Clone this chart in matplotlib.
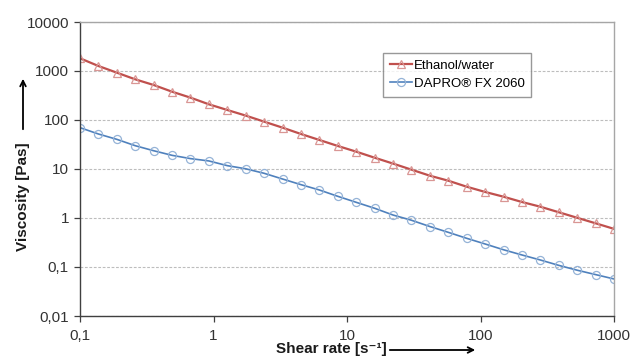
import matplotlib
matplotlib.use("Agg")
import matplotlib.pyplot as plt
from matplotlib.ticker import FixedLocator, NullLocator

plt.rcParams['font.family'] = ['Liberation Sans', 'DejaVu Sans']

shear_rate = [0.1, 0.1374, 0.1887, 0.2593, 0.3562, 0.4894, 0.6723, 0.9237,
              1.269, 1.743, 2.395, 3.290, 4.520, 6.210, 8.532, 11.72, 16.10,
              22.12, 30.39, 41.75, 57.36, 78.80, 108.3, 148.7, 204.3, 280.7,
              385.7, 529.8, 727.9, 1000.0]
ethanol_water = [1817, 1265, 925, 676, 518, 378, 286, 209, 160, 123, 92.5,
                 69.8, 51.8, 39.1, 29.5, 22.6, 17.0, 12.9, 9.7, 7.3, 5.77,
                 4.35, 3.40, 2.72, 2.12, 1.70, 1.31, 1.01, 0.78, 0.60]
dapro = [69.8, 51.8, 40.3, 29.9, 23.6, 19.0, 16.3, 14.6, 11.7, 10.1, 8.17,
         6.25, 4.79, 3.73, 2.77, 2.09, 1.58, 1.15, 0.90, 0.67, 0.51, 0.385,
         0.295, 0.225, 0.176, 0.139, 0.108, 0.086, 0.070, 0.057]
series_names = ["Ethanol/water", "DAPRO® FX 2060"]
x_ticks = [0.1, 1, 10, 100, 1000]
x_tick_labels = ["0,1", "1", "10", "100", "1000"]
y_ticks = [0.01, 0.1, 1, 10, 100, 1000, 10000]
y_tick_labels = ["0,01", "0,1", "1", "10", "100", "1000", "10000"]

W, H = 634, 356
fig = plt.figure(figsize=(W / 100, H / 100), dpi=100)
ax = fig.add_axes([80 / W, 1 - 316 / H, (614 - 80) / W, (316 - 22) / H])

ax.plot(shear_rate, ethanol_water, color='#C0504D', lw=1.6, marker='^',
        ms=5.8, mfc='none', mec='#D99694', mew=0.9, label=series_names[0])
ax.plot(shear_rate, dapro, color='#4F81BD', lw=1.2, marker='o',
        ms=5.8, mfc='none', mec='#95B3D7', mew=0.9, label=series_names[1])

ax.set_xscale('log')
ax.set_yscale('log')
ax.set_xlim(0.1, 1000)
ax.set_ylim(0.01, 10000)
ax.xaxis.set_major_locator(FixedLocator(x_ticks))
ax.set_xticklabels(x_tick_labels)
ax.yaxis.set_major_locator(FixedLocator(y_ticks))
ax.set_yticklabels(y_tick_labels)
ax.xaxis.set_minor_locator(NullLocator())
ax.yaxis.set_minor_locator(NullLocator())

ax.tick_params(axis='both', labelsize=11, colors='#404040', length=4,
               width=0.9, direction='out')
ax.tick_params(axis='x', pad=5)
ax.tick_params(axis='y', pad=4)
for lab in ax.get_xticklabels() + ax.get_yticklabels():
    lab.set_color('#333333')

ax.yaxis.grid(True, color='#BDBDBD', lw=0.8, linestyle=(0, (2.5, 1.5)))
ax.set_axisbelow(True)
for s in ['left', 'bottom']:
    ax.spines[s].set_color('#404040')
    ax.spines[s].set_linewidth(1.0)
for s in ['top', 'right']:
    ax.spines[s].set_color('#A6A6A6')
    ax.spines[s].set_linewidth(1.0)

leg = ax.legend(loc='upper left',
                bbox_to_anchor=((383 - 80) / 534, 1 - (53 - 22) / 294),
                fontsize=9.5, frameon=True, fancybox=False, borderpad=0.5,
                handlelength=1.7, handletextpad=0.15, labelspacing=0.45,
                borderaxespad=0)
leg.get_frame().set_edgecolor('#7F7F7F')
leg.get_frame().set_linewidth(1.0)

fig.text(331 / W, 1 - 349 / H, "Shear rate [s⁻¹]", ha='center', va='center',
         fontsize=11, fontweight='bold', color='#1A1A1A')
fig.text(23 / W, 1 - 197 / H, "Viscosity [Pas]", ha='center', va='center',
         rotation=90, fontsize=11, fontweight='bold', color='#1A1A1A')

ax.annotate('', xy=(478 / W, 1 - 350 / H), xytext=(387 / W, 1 - 350 / H),
            xycoords='figure fraction', textcoords='figure fraction',
            arrowprops=dict(arrowstyle='->', color='black', lw=1.3))
ax.annotate('', xy=(23 / W, 1 - 76 / H), xytext=(23 / W, 1 - 132 / H),
            xycoords='figure fraction', textcoords='figure fraction',
            arrowprops=dict(arrowstyle='->', color='black', lw=1.3))

fig.savefig('out.png', dpi=100)
